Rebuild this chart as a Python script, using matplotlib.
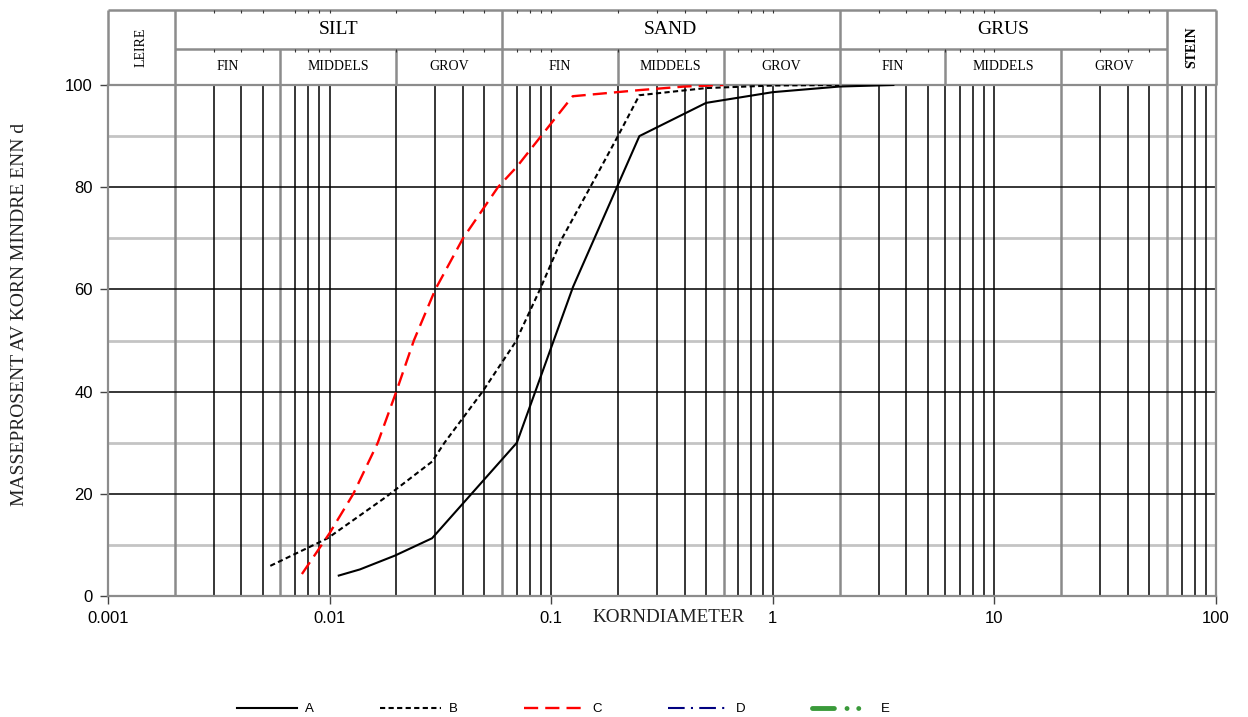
import matplotlib
matplotlib.use('Agg')
import matplotlib.pyplot as plt
from matplotlib.lines import Line2D
from matplotlib.ticker import NullLocator

W, H = 1248, 717

# grain size curves (korndiameter mm, masseprosent)
a_d = [0.011, 0.0137, 0.0197, 0.029, 0.07, 0.1255, 0.25, 0.5, 1.0, 2.0, 3.5]
a_p = [4.0, 5.2, 7.9, 11.3, 30.0, 60.5, 90.0, 96.5, 98.6, 99.7, 100.0]

b_d = [0.0054, 0.0098, 0.018, 0.029, 0.033, 0.049, 0.069, 0.089, 0.112, 0.15, 0.2, 0.25, 0.5, 1.0, 2.0]
b_p = [5.9, 11.3, 19.4, 26.3, 30.0, 40.0, 49.7, 60.0, 70.0, 80.0, 90.0, 98.0, 99.4, 99.9, 100.0]

c_d = [0.0075, 0.01, 0.0128, 0.0165, 0.02, 0.024, 0.03, 0.04, 0.0575, 0.07, 0.09, 0.125, 0.25, 0.4, 0.6]
c_p = [4.3, 12.3, 20.0, 30.0, 40.0, 50.0, 60.0, 70.0, 80.0, 84.0, 90.0, 97.8, 99.0, 99.7, 100.0]

d_d, d_p = [], []
e_d, e_p = [], []

labels = ['A', 'B', 'C', 'D', 'E']

x_ticks = [0.001, 0.01, 0.1, 1, 10, 100]
x_tick_labels = ['0.001', '0.01', '0.1', '1', '10', '100']
y_ticks = [0, 20, 40, 60, 80, 100]

groups = ['SILT', 'SAND', 'GRUS']
group_bounds = [[0.002, 0.006, 0.02, 0.06], [0.06, 0.2, 0.6, 2], [2, 6, 20, 60]]
subs = ['FIN', 'MIDDELS', 'GROV']

gray_v = [0.002, 0.006, 0.06, 0.6, 2, 20, 60]
grid_v = []
for k in [-3, -2, -1, 0, 1]:
    for m in range(1, 10):
        v = m * 10.0 ** k
        if 0.002 <= v < 100:
            grid_v.append(v)

serif = 'Liberation Serif'
sans = 'Liberation Sans'
edge = '#8c8c8c'

e_style = dict(color='#3a9a3a', lw=3.5, linestyle=(0, (4.5, 2.6, 0.01, 2.4, 0.01, 5)),
               dash_capstyle='round')

fig = plt.figure(figsize=(W / 100, H / 100), dpi=100)
ax = fig.add_axes([108 / W, 1 - 596 / H, 1108 / W, 511 / H])
ax.set_xscale('log')
ax.set_xlim(0.001, 100)
ax.set_ylim(0, 100)

for v in grid_v:
    if any(abs(v - g) / g < 1e-6 for g in gray_v):
        ax.axvline(v, color='#8a8a8a', lw=1.8, zorder=1)
    else:
        ax.axvline(v, color='black', lw=1.1, zorder=1)
for h in [10, 30, 50, 70, 90]:
    ax.axhline(h, color='#c4c4c4', lw=2, zorder=0.9)
for h in [20, 40, 60, 80]:
    ax.axhline(h, color='black', lw=1.1, zorder=1)

ax.plot(a_d, a_p, color='black', lw=1.5, zorder=3)
ax.plot(b_d, b_p, color='black', lw=1.5, linestyle=(0, (2.5, 1.6)), zorder=3)
ax.plot(c_d, c_p, color='#ff0000', lw=1.7, linestyle=(0, (6, 3)), zorder=3)
ax.plot(d_d, d_p, color='#000080', lw=1.5, linestyle=(0, (8, 3, 1, 3)), zorder=3)
ax.plot(e_d, e_p, zorder=3, **e_style)

for s in ax.spines.values():
    s.set_color(edge)
    s.set_linewidth(1.6)

ax.set_xticks(x_ticks)
ax.set_xticklabels(x_tick_labels, fontfamily=sans)
ax.xaxis.set_minor_locator(NullLocator())
ax.set_yticks(y_ticks)
ax.set_yticklabels([str(t) for t in y_ticks], fontfamily=sans)
ax.tick_params(direction='out', length=6, width=1, color='#444444', labelsize=12, pad=5)

fig.text(20 / W, 1 - 314 / H, 'MASSEPROSENT AV KORN MINDRE ENN d', rotation=90,
         ha='center', va='center', fontsize=14, fontfamily=serif, color='#222222')
fig.text(669 / W, 1 - 618 / H, 'KORNDIAMETER', ha='center', va='center',
         fontsize=13.8, fontfamily=serif, color='#222222')

# header table
hx = fig.add_axes([108 / W, 1 - 85 / H, 1108 / W, 75 / H])
hx.set_xscale('log')
hx.set_xlim(0.001, 100)
hx.set_ylim(85, 10)
hx.axis('off')

hx.hlines(10, 0.001, 100, color=edge, lw=1.8, clip_on=False)
hx.hlines(49, 0.002, 60, color=edge, lw=1.8, clip_on=False)
hx.vlines([0.001, 0.002, 0.06, 2, 60, 100], 10, 85, color=edge, lw=1.8, clip_on=False)
hx.vlines([0.006, 0.02, 0.2, 0.6, 6, 20], 49, 85, color=edge, lw=1.8, clip_on=False)

for v in grid_v:
    if 0.002 < v < 60 and not any(abs(v - g) / g < 1e-6 for g in gray_v):
        hx.vlines(v, 10, 13, color='#333333', lw=0.8, clip_on=False)
        hx.vlines(v, 49, 52, color='#333333', lw=0.8, clip_on=False)

for name, bd in zip(groups, group_bounds):
    hx.text((bd[0] * bd[3]) ** 0.5, 29, name, ha='center', va='center',
            fontsize=14, fontfamily=serif)
    for i, sub in enumerate(subs):
        hx.text((bd[i] * bd[i + 1]) ** 0.5, 67, sub, ha='center', va='center',
                fontsize=10, fontfamily=serif)

hx.text((0.001 * 0.002) ** 0.5, 47, 'LEIRE', rotation=90, ha='center', va='center',
        fontsize=10, fontfamily=serif)
hx.text((60 * 100) ** 0.5, 47, 'STEIN', rotation=90, ha='center', va='center',
        fontsize=10, fontfamily=serif, fontweight='bold')

handles = [
    Line2D([], [], color='black', lw=1.5),
    Line2D([], [], color='black', lw=1.5, linestyle=(0, (2.5, 1.6))),
    Line2D([], [], color='#ff0000', lw=1.7, linestyle=(0, (6, 3))),
    Line2D([], [], color='#000080', lw=1.5, linestyle=(0, (8, 3, 1, 3))),
    Line2D([], [], **e_style),
]
fig.legend(handles, labels, loc='center', bbox_to_anchor=(563 / W, 1 - 709 / H), ncol=5,
           frameon=False, handlelength=4.6, handletextpad=0.6, columnspacing=5.0,
           prop={'family': sans, 'size': 9.5})

fig.savefig('out.png', dpi=100)
